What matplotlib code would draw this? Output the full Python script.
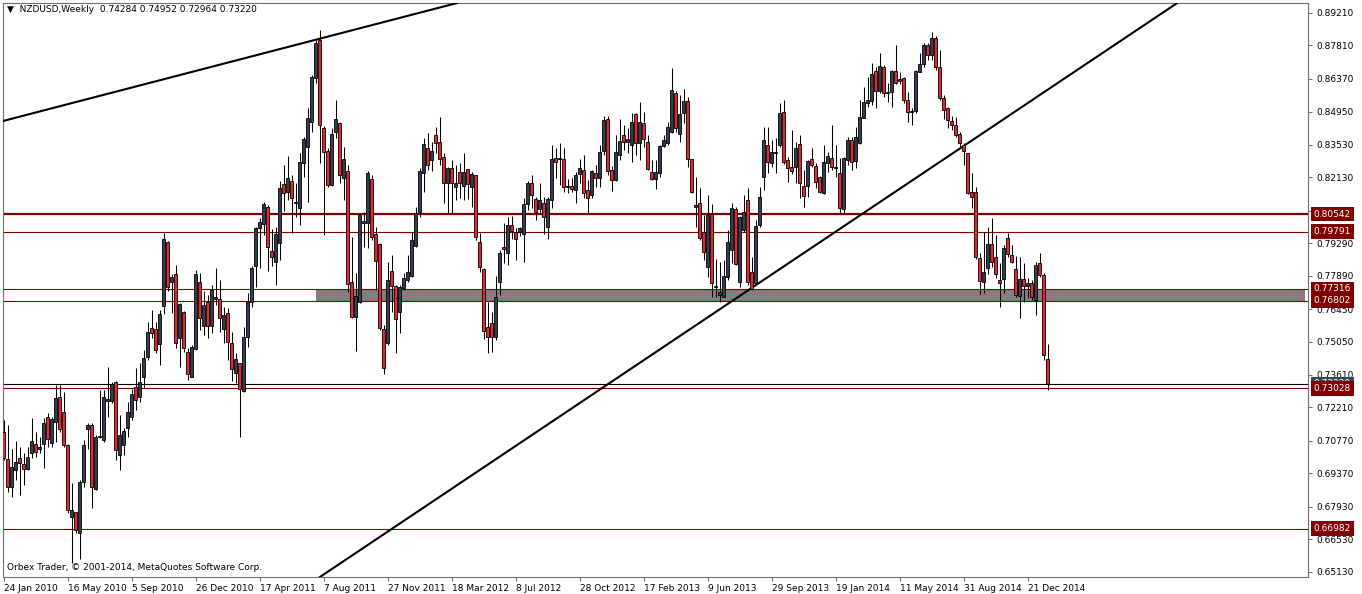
import matplotlib
matplotlib.use("Agg")
import matplotlib.pyplot as plt
from matplotlib.transforms import blended_transform_factory
import numpy as np

# NZDUSD weekly candles, first bar = week of 24 Jan 2010
opens = [
    .7116, .6997, .6877, .6951, .7002, .6976, .6954, .7023, .7063, .7043,
    .7063, .7181, .7066, .7160, .7267, .7203, .7058, .6750, .6769, .6678,
    .6901, .7127, .7145, .6868, .7092, .7081, .7250, .7250, .7330, .7016,
    .7059, .7131, .7181, .7308, .7265, .7351, .7440, .7562, .7559, .7493,
    .7658, .7933, .7760, .7796, .7519, .7631, .7459, .7353, .7472, .7760,
    .7573, .7677, .7573, .7690, .7687, .7558, .7627, .7497, .7368, .7411,
    .7293, .7523, .7677, .7831, .7993, .8012, .8086, .7895, .7849, .7931,
    .8184, .8151, .8198, .8101, .8079, .8276, .8345, .8452, .8640, .8805,
    .8424, .8326, .8180, .8409, .8446, .8209, .8240, .7763, .7609, .7677,
    .8017, .8015, .8206, .7968, .7925, .7558, .7500, .7808, .7744, .7634,
    .7734, .7770, .7789, .7917, .8065, .8230, .8338, .8287, .8395, .8366,
    .8302, .8187, .8252, .8170, .8234, .8175, .8247, .8170, .8221, .7933,
    .7816, .7566, .7584, .7523, .7763, .7911, .7888, .8007, .7976, .7976,
    .7968, .8098, .8187, .8118, .8075, .8103, .8000, .8115, .8295, .8290,
    .8290, .8170, .8175, .8158, .8226, .8244, .8158, .8137, .8230, .8209,
    .8328, .8463, .8244, .8201, .8309, .8395, .8366, .8352, .8486, .8359,
    .8448, .8366, .8237, .8204, .8233, .8348, .8362, .8409, .8575, .8399,
    .8489, .8543, .8290, .8086, .8101, .7978, .7828, .8055, .7739, .7706,
    .7698, .7785, .7900, .8075, .7763, .7986, .8115, .7806, .7756, .8007,
    .8215, .8352, .8276, .8319, .8352, .8493, .8287, .8256, .8259, .8356,
    .8175, .8175, .8292, .8263, .8213, .8144, .8276, .8295, .8252, .8230,
    .8075, .8287, .8374, .8283, .8359, .8470, .8532, .8542, .8671, .8585,
    .8687, .8575, .8582, .8671, .8628, .8640, .8546, .8493, .8499, .8668,
    .8700, .8783, .8740, .8812, .8690, .8553, .8510, .8455, .8440, .8399,
    .8352, .8316, .8151, .8151, .7864, .7763, .7821, .7925, .7868, .7770,
    .7773, .7950, .7878, .7816, .7701, .7773, .7746, .7756, .7684, .7845,
    .7792, .74284,
]
highs = [
    .7167, .7145, .7040, .7078, .7052, .7023, .7049, .7174, .7116, .7095,
    .7174, .7196, .7181, .7318, .7318, .7289, .7063, .6894, .6772, .6908,
    .7081, .7155, .7155, .7102, .7296, .7296, .7397, .7332, .7335, .7188,
    .7131, .7246, .7299, .7390, .7411, .7469, .7590, .7641, .7590, .7641,
    .7974, .7940, .7796, .7835, .7672, .7637, .7476, .7490, .7813, .7799,
    .7723, .7706, .7749, .7821, .7770, .7655, .7648, .7547, .7454, .7414,
    .7569, .7713, .7831, .8000, .8036, .8108, .8093, .7989, .8000, .8198,
    .8266, .8305, .8223, .8187, .8319, .8385, .8510, .8654, .8805, .8848,
    .8434, .8338, .8424, .8546, .8452, .8345, .8266, .7957, .7799, .8058,
    .8065, .8241, .8223, .8000, .7931, .7576, .7846, .7878, .7749, .7749,
    .7799, .7878, .7978, .8086, .8252, .8381, .8405, .8366, .8431, .8474,
    .8316, .8256, .8287, .8266, .8273, .8319, .8250, .8237, .8223, .7971,
    .7821, .7677, .7634, .7787, .7900, .8015, .8043, .8046, .7993, .8000,
    .8122, .8198, .8223, .8129, .8187, .8129, .8127, .8352, .8338, .8359,
    .8338, .8204, .8209, .8237, .8290, .8309, .8201, .8244, .8266, .8352,
    .8477, .8477, .8261, .8395, .8463, .8438, .8424, .8489, .8489, .8539,
    .8496, .8395, .8287, .8287, .8352, .8395, .8452, .8683, .8586, .8568,
    .8592, .8560, .8293, .8215, .8165, .8050, .8137, .8098, .7859, .7849,
    .7856, .7986, .8103, .8086, .8046, .8137, .8165, .7871, .8029, .8172,
    .8431, .8431, .8374, .8381, .8532, .8546, .8299, .8417, .8366, .8395,
    .8244, .8287, .8338, .8273, .8218, .8352, .8323, .8438, .8352, .8295,
    .8302, .8388, .8388, .8431, .8546, .8603, .8646, .8704, .8690, .8747,
    .8697, .8618, .8674, .8783, .8668, .8646, .8582, .8510, .8675, .8747,
    .8790, .8790, .8840, .8823, .8762, .8568, .8517, .8475, .8473, .8409,
    .8359, .8319, .8230, .8170, .7885, .7978, .7997, .8036, .7964, .7842,
    .7921, .7974, .7921, .7874, .7868, .7845, .7778, .7770, .7849, .7888,
    .7799, .74952,
]
lows = [
    .6994, .6858, .6836, .6908, .6843, .6887, .6951, .7002, .7009, .7026,
    .6959, .7052, .7049, .7073, .7116, .7052, .6765, .6552, .6678, .6566,
    .6879, .7040, .6786, .6865, .7088, .7073, .7181, .7239, .6994, .6951,
    .7016, .7095, .7167, .7210, .7246, .7303, .7425, .7519, .7454, .7404,
    .7624, .7724, .7627, .7476, .7394, .7461, .7339, .7351, .7469, .7555,
    .7533, .7519, .7540, .7662, .7547, .7500, .7425, .7336, .7325, .7095,
    .7289, .7483, .7655, .7741, .7821, .7964, .7810, .7831, .7749, .7856,
    .8069, .8115, .7971, .8043, .8007, .8215, .8108, .8409, .8618, .8273,
    .7964, .8172, .8175, .8381, .8187, .8115, .7720, .7605, .7466, .7672,
    .7914, .7907, .7943, .7727, .7555, .7365, .7490, .7634, .7457, .7540,
    .7727, .7763, .7785, .7914, .8040, .8151, .8244, .8241, .8316, .8266,
    .8101, .8060, .8060, .8115, .8122, .8115, .8118, .8086, .7943, .7806,
    .7515, .7454, .7461, .7512, .7706, .7842, .7835, .7946, .7856, .7960,
    .7849, .8072, .8079, .8029, .8055, .7969, .7946, .8079, .8209, .8180,
    .8151, .8144, .8151, .8101, .8190, .8122, .8055, .8122, .8172, .8172,
    .8309, .8223, .8155, .8198, .8287, .8331, .8316, .8280, .8309, .8287,
    .8342, .8244, .8201, .8161, .8215, .8342, .8352, .8405, .8409, .8366,
    .8446, .8259, .8146, .8000, .7943, .7856, .7785, .7696, .7696, .7677,
    .7696, .7770, .7842, .7835, .7741, .7978, .7749, .7727, .7753, .8000,
    .8158, .8230, .8256, .8230, .8345, .8270, .8191, .8227, .8187, .8122,
    .8084, .8129, .8256, .8165, .8144, .8141, .8237, .8244, .8215, .8058,
    .8058, .8266, .8244, .8254, .8355, .8467, .8517, .8524, .8513, .8575,
    .8560, .8536, .8517, .8614, .8614, .8532, .8452, .8438, .8489, .8665,
    .8690, .8718, .8718, .8675, .8546, .8464, .8424, .8418, .8387, .8345,
    .8266, .8141, .8079, .7859, .7710, .7713, .7796, .7828, .7778, .7655,
    .7713, .7871, .7842, .7698, .7605, .7677, .7691, .7684, .7619, .7782,
    .7425, .72964,
]
closes = [
    .7002, .6879, .6966, .6986, .6980, .6957, .7006, .7076, .7029, .7049,
    .7153, .7084, .7170, .7260, .7127, .7059, .6779, .6779, .6693, .6901,
    .7059, .7145, .6879, .7095, .7098, .7267, .7256, .7322, .7038, .7102,
    .7121, .7203, .7279, .7253, .7332, .7435, .7545, .7540, .7469, .7622,
    .7947, .7739, .7782, .7497, .7667, .7476, .7365, .7480, .7796, .7605,
    .7662, .7572, .7727, .7696, .7605, .7619, .7504, .7385, .7428, .7299,
    .7523, .7677, .7821, .7993, .8019, .8098, .7911, .7871, .7967, .8165,
    .8146, .8208, .8122, .8108, .8277, .8378, .8467, .8644, .8793, .8438,
    .8321, .8180, .8399, .8464, .8223, .8290, .7753, .7612, .7703, .8050,
    .8023, .8230, .7954, .7853, .7562, .7390, .7770, .7746, .7601, .7741,
    .7778, .7803, .7943, .8060, .8240, .8356, .8266, .8328, .8359, .8290,
    .8187, .8252, .8187, .8187, .8190, .8234, .8183, .8226, .7954, .7825,
    .7550, .7523, .7526, .7698, .7885, .7902, .8007, .7983, .7946, .7993,
    .8096, .8190, .8137, .8065, .8115, .8040, .8118, .8290, .8280, .8297,
    .8170, .8175, .8161, .8223, .8252, .8146, .8122, .8240, .8209, .8323,
    .8460, .8241, .8201, .8321, .8369, .8366, .8378, .8452, .8362, .8452,
    .8377, .8247, .8204, .8237, .8348, .8374, .8431, .8589, .8424, .8486,
    .8543, .8290, .8151, .8092, .7950, .7892, .8050, .7759, .7744, .7720,
    .7787, .7935, .8079, .7839, .8043, .8065, .7763, .7730, .8003, .8129,
    .8374, .8280, .8323, .8323, .8489, .8280, .8252, .8241, .8338, .8187,
    .8134, .8284, .8266, .8194, .8151, .8280, .8305, .8259, .8256, .8079,
    .8295, .8374, .8280, .8388, .8474, .8539, .8546, .8657, .8585, .8693,
    .8575, .8582, .8671, .8618, .8637, .8546, .8493, .8499, .8671, .8700,
    .8783, .8740, .8815, .8687, .8553, .8503, .8460, .8440, .8395, .8362,
    .8328, .8146, .8127, .7868, .7767, .7806, .7925, .7849, .7796, .7756,
    .7907, .7882, .7849, .7706, .7773, .7744, .7756, .7696, .7835, .7792,
    .7447, .73220,
]

# horizontal levels drawn on the chart
red_levels = [0.80542, 0.79791, 0.77316, 0.76802, 0.73028, 0.66982]
thick_level = 0.80542
bid_price = 0.73220
zone_low, zone_high, zone_start = 0.76802, 0.77316, 78

# trend lines (week index, price)
trend_a_x, trend_a_y = [0, 113.4], [0.8456, 0.8964]
trend_b_x, trend_b_y = [79.1, 293.4], [0.6490, 0.8964]

price_ticks = [0.89210, 0.87810, 0.86370, 0.84950, 0.83530, 0.82130, 0.80690,
               0.79290, 0.77890, 0.76450, 0.75050, 0.73610, 0.72210, 0.70770,
               0.69370, 0.67930, 0.66530, 0.65130]
date_labels = ['24 Jan 2010', '16 May 2010', '5 Sep 2010', '26 Dec 2010',
               '17 Apr 2011', '7 Aug 2011', '27 Nov 2011', '18 Mar 2012',
               '8 Jul 2012', '28 Oct 2012', '17 Feb 2013', '9 Jun 2013',
               '29 Sep 2013', '19 Jan 2014', '11 May 2014', '31 Aug 2014',
               '21 Dec 2014']
date_step = 16

o = np.array(opens)
h = np.array(highs)
l = np.array(lows)
c = np.array(closes)
x = np.arange(len(o))

bull_col = '#343e4e'
bear_col = '#e8262e'
lvl_col = '#800000'
fs = 6.5

fig = plt.figure(figsize=(13.62, 5.94), dpi=100)
ax = fig.add_axes([3 / 1362, 17 / 594, 1305 / 1362, 574 / 594])

# zone rectangle + levels
ax.fill_between([zone_start, 325.3], zone_low, zone_high, color='#808080', lw=0, zorder=1)
for lv in red_levels:
    ax.axhline(lv, color=lvl_col, lw=1.6 if lv == thick_level else 0.8, zorder=2)
ax.axhline(bid_price, color='black', lw=0.8, zorder=2)

# trend lines
ax.plot(trend_a_x, trend_a_y, color='black', lw=1.5, zorder=3)
ax.plot(trend_b_x, trend_b_y, color='black', lw=1.5, zorder=3)

# candles
up = c >= o
ax.vlines(x, l, h, color='black', lw=0.75, zorder=4)
body = np.maximum(np.abs(c - o), 0.00025)
ax.bar(x, body, bottom=np.minimum(o, c), width=0.55,
       color=np.where(up, bull_col, bear_col), edgecolor='black', lw=0.6, zorder=5)

ax.set_xlim(-0.125, 326.1)
ax.set_ylim(0.6490, 0.8964)

# right price scale
ax.yaxis.tick_right()
ax.set_yticks(price_ticks)
ax.set_yticklabels(['%.5f' % t for t in price_ticks])
ax.tick_params(axis='y', length=3, width=0.6, pad=3, labelsize=fs, color='#555555')

ax.set_xticks(np.arange(len(date_labels)) * date_step)
ax.set_xticklabels(date_labels, ha='left')
ax.tick_params(axis='x', length=3, width=0.6, pad=2, labelsize=fs, color='#555555')

for s in ax.spines.values():
    s.set_color('#707070')
    s.set_linewidth(0.8)

# price labels on the scale
tr = blended_transform_factory(ax.transAxes, ax.transData)
ax.text(1.0045, bid_price, '%.5f' % bid_price, transform=tr, fontsize=fs, color='white',
        va='center', ha='left', clip_on=False, zorder=6,
        bbox=dict(boxstyle='square,pad=0.3', fc='#3b4654', ec='none'))
for lv in red_levels:
    ax.text(1.0045, lv, '%.5f' % lv, transform=tr, fontsize=fs, color='white',
            va='center', ha='left', clip_on=False, zorder=7,
            bbox=dict(boxstyle='square,pad=0.3', fc=lvl_col, ec='none'))

ax.text(4 / 1305, 1 - 7 / 574, '\u25bc  NZDUSD,Weekly  0.74284 0.74952 0.72964 0.73220',
        transform=ax.transAxes, fontsize=fs, va='center', ha='left')
ax.text(4 / 1305, 9 / 574, 'Orbex Trader, \u00a9 2001-2014, MetaQuotes Software Corp.',
        transform=ax.transAxes, fontsize=fs, va='center', ha='left')

fig.savefig('out.png', dpi=100)
